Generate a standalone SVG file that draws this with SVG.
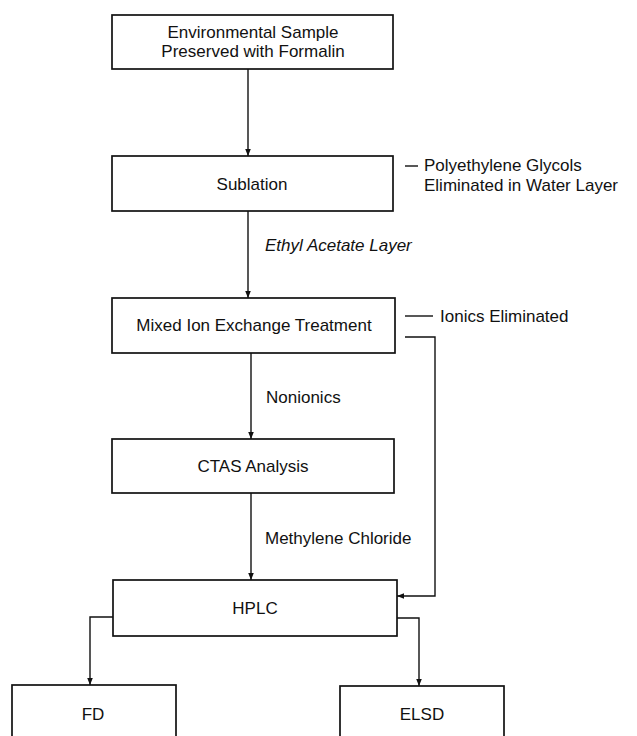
<svg xmlns="http://www.w3.org/2000/svg" width="637" height="736" viewBox="0 0 637 736">
<defs>
<marker id="ah" viewBox="0 0 10 10" refX="10" refY="5" markerWidth="7" markerHeight="8" markerUnits="userSpaceOnUse" orient="auto">
<path d="M0,1 L10,5 L0,9 z" fill="#111"/>
</marker>
</defs>
<style>
.box{fill:#fff;stroke:#111;stroke-width:1.7}
.t{font-family:"Liberation Sans",Arial,sans-serif;font-size:17px;fill:#111}
.c{text-anchor:middle}
.i{font-style:italic}
.ln{fill:none;stroke:#111;stroke-width:1.4}
.ar{fill:none;stroke:#111;stroke-width:1.4;marker-end:url(#ah)}
</style>
<rect width="637" height="736" fill="#fff"/>
<g id="connectors">
<line class="ar" x1="248" y1="69" x2="248" y2="156"/>
<line class="ar" x1="248" y1="211" x2="248" y2="298"/>
<line class="ar" x1="251" y1="353" x2="251" y2="439"/>
<line class="ar" x1="251" y1="493" x2="251" y2="580"/>
<polyline class="ar" points="405,337 435,337 435,596 397,596"/>
<polyline class="ar" points="113,617 90,617 90,685"/>
<polyline class="ar" points="397,618 419,618 419,686"/>
<line class="ln" x1="405" y1="166" x2="418" y2="166"/>
<line class="ln" x1="405" y1="316" x2="433" y2="316"/>
<text class="t i" x="265" y="251">Ethyl Acetate Layer</text>
<text class="t" x="266" y="403">Nonionics</text>
<text class="t" x="265" y="544">Methylene Chloride</text>
<text class="t" x="440" y="322">Ionics Eliminated</text>
<text class="t" x="424" y="171">Polyethylene Glycols</text>
<text class="t" x="424" y="191">Eliminated in Water Layer</text>
</g>
<g id="n1">
<rect class="box" x="112" y="15" width="281" height="54"/>
<text class="t c" x="253" y="38">Environmental Sample</text>
<text class="t c" x="253" y="57">Preserved with Formalin</text>
</g>
<g id="n2">
<rect class="box" x="112" y="156" width="281" height="55"/>
<text class="t c" x="252" y="190">Sublation</text>
</g>
<g id="n3">
<rect class="box" x="112" y="298" width="283" height="55"/>
<text class="t c" x="254" y="331">Mixed Ion Exchange Treatment</text>
</g>
<g id="n4">
<rect class="box" x="112" y="439" width="282" height="54"/>
<text class="t c" x="253" y="472">CTAS Analysis</text>
</g>
<g id="n5">
<rect class="box" x="113" y="580" width="284" height="56"/>
<text class="t c" x="255" y="614">HPLC</text>
</g>
<g id="n6">
<rect class="box" x="12" y="685" width="164" height="62"/>
<text class="t c" x="93" y="720">FD</text>
</g>
<g id="n7">
<rect class="box" x="340" y="686" width="164" height="62"/>
<text class="t c" x="422" y="720">ELSD</text>
</g>
</svg>
